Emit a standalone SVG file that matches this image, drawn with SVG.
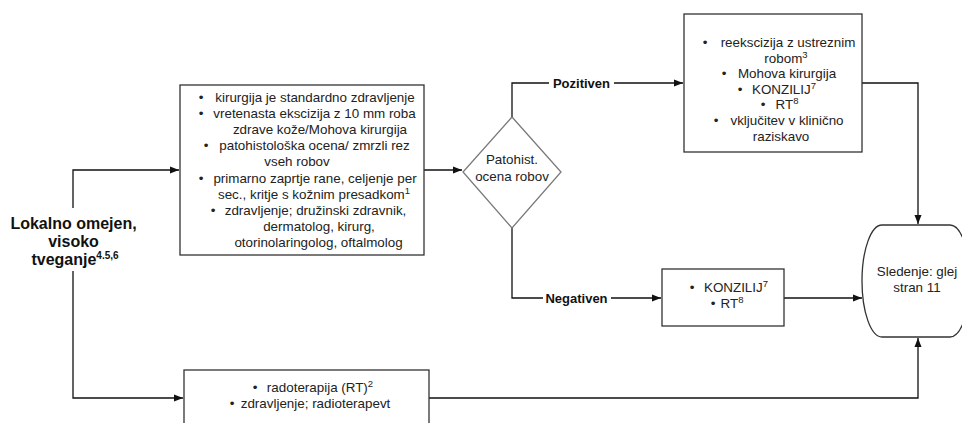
<svg xmlns="http://www.w3.org/2000/svg" width="962" height="423" viewBox="0 0 962 423">
  <style>
    .box { fill: #ffffff; stroke: #333333; stroke-width: 1.3; }
    .dia { fill: #ffffff; stroke: #7a7a7a; stroke-width: 1.3; }
    .t { font-family: "Liberation Sans", Arial, sans-serif; font-size: 13.4px; fill: #222222; text-anchor: middle; }
    .b { font-family: "Liberation Sans", Arial, sans-serif; font-size: 13.4px; fill: #222222; text-anchor: middle; }
    .lbl { font-family: "Liberation Sans", Arial, sans-serif; font-size: 13px; font-weight: bold; fill: #111111; text-anchor: middle; }
    .main { font-family: "Liberation Sans", Arial, sans-serif; font-size: 16px; font-weight: bold; fill: #111111; text-anchor: middle; }
    .sup { font-size: 9.5px; }
    .conn path { fill: none; stroke: #111111; stroke-width: 1.3; }
  </style>
  <defs>
    <marker id="arrow" markerUnits="userSpaceOnUse" markerWidth="10" markerHeight="8" refX="9" refY="4" orient="auto">
      <path d="M0,0.5 L9,4 L0,7.5 Z" fill="#111111"/>
    </marker>
  </defs>

  <rect width="962" height="423" fill="#ffffff"/>

  <!-- connectors -->
  <g id="connectors" class="conn">
    <path d="M73 208 V170 H179" marker-end="url(#arrow)"/>
    <path d="M73 271 V398 H183" marker-end="url(#arrow)"/>
    <path d="M424 170 H462" marker-end="url(#arrow)"/>
    <path d="M512 118 V83 H683" marker-end="url(#arrow)"/>
    <path d="M512 228 V298 H661" marker-end="url(#arrow)"/>
    <path d="M862 83 H918 V224" marker-end="url(#arrow)"/>
    <path d="M784 298 H862" marker-end="url(#arrow)"/>
    <path d="M429 398 H918 V338" marker-end="url(#arrow)"/>
    <rect x="549" y="75" width="65" height="16" fill="#ffffff"/>
    <text class="lbl" x="581.5" y="88">Pozitiven</text>
    <rect x="543" y="290" width="68" height="16" fill="#ffffff"/>
    <text class="lbl" x="576.5" y="302.5">Negativen</text>
  </g>

  <!-- start label -->
  <g id="start">
    <text class="main" x="73.5" y="229">Lokalno omejen,</text>
    <text class="main" x="73.5" y="247">visoko</text>
    <text class="main" x="75" y="265">tveganje<tspan font-size="10px" dy="-6">4.5,6</tspan></text>
  </g>

  <!-- surgery box -->
  <g id="surgery">
    <rect class="box" x="180" y="85" width="244" height="170"/>
    <text class="b" x="201" y="102">•</text>
    <text class="t" x="315" y="102">kirurgija je standardno zdravljenje</text>
    <text class="b" x="201" y="118">•</text>
    <text class="t" x="314.5" y="118">vretenasta ekscizija z 10 mm roba</text>
    <text class="t" x="320" y="134">zdrave kože/Mohova kirurgija</text>
    <text class="b" x="206" y="150">•</text>
    <text class="t" x="314.5" y="150">patohistološka ocena/ zmrzli rez</text>
    <text class="t" x="297" y="166">vseh robov</text>
    <text class="b" x="201" y="182.5">•</text>
    <text class="t" x="315" y="182.5">primarno zaprtje rane, celjenje per</text>
    <text class="t" x="314" y="198.5">sec., kritje s kožnim presadkom<tspan class="sup" dy="-5">1</tspan></text>
    <text class="b" x="213" y="214.5">•</text>
    <text class="t" x="315.5" y="214.5">zdravljenje; družinski zdravnik,</text>
    <text class="t" x="319" y="230.5">dermatolog, kirurg,</text>
    <text class="t" x="318.5" y="246.5">otorinolaringolog, oftalmolog</text>
  </g>

  <!-- margin assessment decision -->
  <g id="decision">
    <polygon class="dia" points="512,117 561,172 512,228 463,172"/>
    <text class="t" x="512" y="164">Patohist.</text>
    <text class="t" x="512" y="181">ocena robov</text>
  </g>

  <!-- positive margins box -->
  <g id="positive">
    <rect class="box" x="684" y="14" width="178" height="138"/>
    <text class="b" x="705" y="47">•</text>
    <text class="t" x="788" y="47">reekscizija z ustreznim</text>
    <text class="t" x="786" y="63">robom<tspan class="sup" dy="-5">3</tspan></text>
    <text class="b" x="724" y="78">•</text>
    <text class="t" x="787" y="78">Mohova kirurgija</text>
    <text class="b" x="740" y="93.5">•</text>
    <text class="t" x="784" y="93.5">KONZILIJ<tspan class="sup" dy="-5">7</tspan></text>
    <text class="b" x="763" y="109">•</text>
    <text class="t" x="787" y="109">RT<tspan class="sup" dy="-5">8</tspan></text>
    <text class="b" x="716" y="125">•</text>
    <text class="t" x="787" y="125">vključitev v klinično</text>
    <text class="t" x="781" y="141">raziskavo</text>
  </g>

  <!-- negative margins box -->
  <g id="negative">
    <rect class="box" x="662" y="269" width="122" height="57"/>
    <text class="b" x="692" y="292">•</text>
    <text class="t" x="736" y="292">KONZILIJ<tspan class="sup" dy="-5">7</tspan></text>
    <text class="b" x="713" y="307.5">•</text>
    <text class="t" x="732" y="307.5">RT<tspan class="sup" dy="-5">8</tspan></text>
  </g>

  <!-- radiotherapy box -->
  <g id="radiotherapy">
    <rect class="box" x="184" y="370" width="245" height="70"/>
    <text class="b" x="255" y="392">•</text>
    <text class="t" x="320" y="392">radoterapija (RT)<tspan class="sup" dy="-5">2</tspan></text>
    <text class="b" x="232" y="408">•</text>
    <text class="t" x="315.5" y="408">zdravljenje; radioterapevt</text>
  </g>

  <!-- follow-up terminal -->
  <g id="followup">
    <path class="box" d="M882 225 H950 A20 56 0 0 1 950 337 H882 A20 56 0 0 1 882 225 Z"/>
    <text class="t" x="917" y="276">Sledenje: glej</text>
    <text class="t" x="917" y="292">stran 11</text>
  </g>
</svg>
